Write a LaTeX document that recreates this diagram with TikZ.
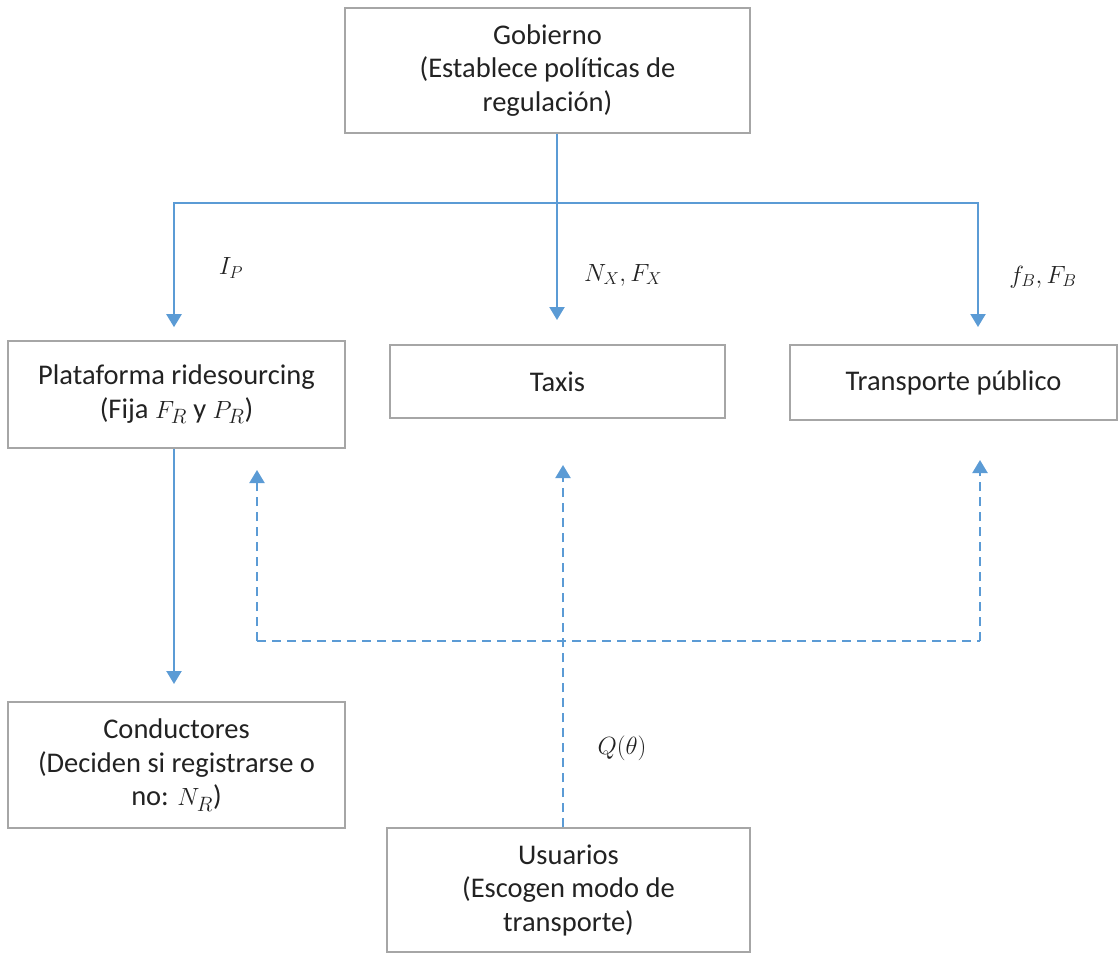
\documentclass[tikz,border=0pt]{standalone}
\usepackage{fontspec}
\setmainfont{Carlito}
\usetikzlibrary{arrows.meta,calc}
\definecolor{blu}{HTML}{5B9BD5}
\definecolor{bord}{HTML}{A6A6A6}
\definecolor{txt}{HTML}{222222}
\begin{document}
\begin{tikzpicture}[x=1pt,y=-1pt,
  box/.style={draw=bord,line width=1.6pt,align=center,inner sep=0pt,text=txt,font=\fontsize{28.5}{33.5}\selectfont},
  arr/.style={draw=blu,line width=2.2pt,-{Triangle[width=15pt,length=13pt]}},
  darr/.style={arr,dash pattern=on 9pt off 6pt},
  lab/.style={text=txt,font=\fontsize{26}{30}\selectfont}]
\useasboundingbox (0,0) rectangle (1120,954);
\node[box,minimum width=405pt,minimum height=125pt] (gob) at (547.5,70.5) {Gobierno\\(Establece políticas de\\regulación)};
\node[box,minimum width=337pt,minimum height=107pt] (plat) at (176.5,394.5) {Plataforma ridesourcing\\(Fija $F_R$ y $P_R$)};
\node[box,minimum width=335pt,minimum height=73pt] (tax) at (557.5,381.5) {Taxis};
\node[box,minimum width=327pt,minimum height=75pt] (tra) at (953.5,382.5) {Transporte público};
\node[box,minimum width=337pt,minimum height=126pt] (con) at (176.5,765) {Conductores\\(Deciden si registrarse o\\no: $N_R$)};
\node[box,minimum width=363pt,minimum height=124pt] (usu) at (568.5,890) {Usuarios\\(Escogen modo de\\transporte)};
% top distribution
\coordinate (g0) at (gob.south -| 557,0);
\coordinate (j) at (557,203);
\coordinate (pt) at ($(plat.north)+(-2.5,-13)$);
\coordinate (tt) at (557,320);
\coordinate (rt) at (978,327);
\draw[arr] (g0) -- (tt);
\draw[arr] (j) -| (pt);
\draw[arr] (j) -| (rt);
\draw[arr] (plat.south -| 174,0) -- (174,684);
% dashed
\coordinate (u0) at (usu.north -| 563,0);
\coordinate (dl) at (257,641);
\coordinate (dr) at (980,641);
\draw[darr] (u0) -- (563,465);
\draw[darr,-] (dl) -- (dr);
\draw[darr] (dl) -- (257,470);
\draw[darr] (dr) -- (980,460);
% labels
\node[lab] (l1) at (231,268) {$I_P$};
\node[lab] (l2) at (623,275) {$N_X, F_X$};
\node[lab] (l3) at (1043,277) {$f_B, F_B$};
\node[lab] (l4) at (622,748) {$Q(\theta)$};
\end{tikzpicture}
\end{document}
